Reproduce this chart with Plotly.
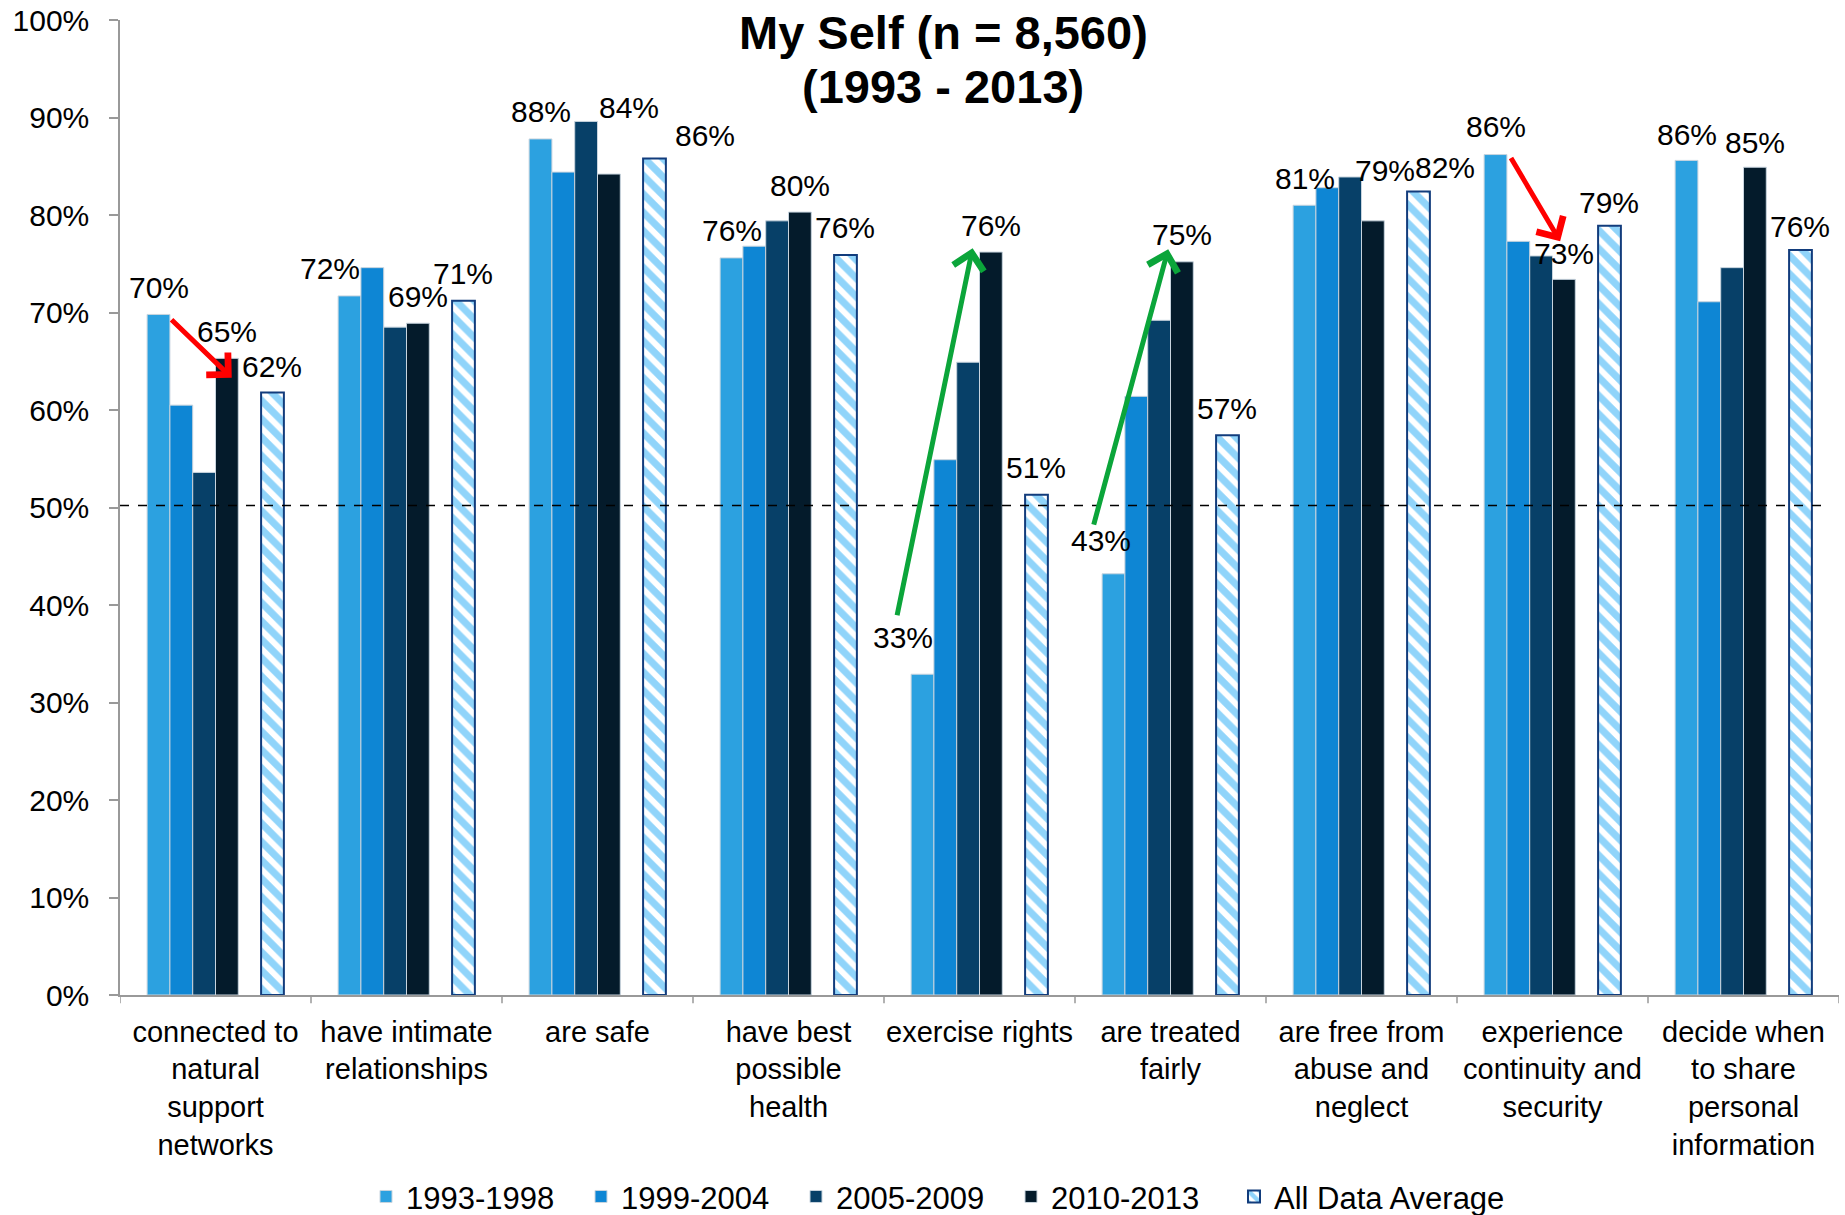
import plotly.graph_objects as go

# ---------------- data ----------------
categories = [
    "connected to<br>natural<br>support<br>networks",
    "have intimate<br>relationships",
    "are safe",
    "have best<br>possible<br>health",
    "exercise rights",
    "are treated<br>fairly",
    "are free from<br>abuse and<br>neglect",
    "experience<br>continuity and<br>security",
    "decide when<br>to share<br>personal<br>information",
]
series_names = ["1993-1998", "1999-2004", "2005-2009", "2010-2013", "All Data Average"]
v_1993_1998 = [69.8, 71.7, 87.8, 75.6, 32.9, 43.2, 81.0, 86.2, 85.6]
v_1999_2004 = [60.5, 74.6, 84.4, 76.8, 54.9, 61.4, 82.8, 77.3, 71.1]
v_2005_2009 = [53.6, 68.5, 89.6, 79.4, 64.9, 69.2, 83.9, 75.8, 74.6]
v_2010_2013 = [65.3, 68.9, 84.2, 80.3, 76.2, 75.2, 79.4, 73.4, 84.9]
v_average = [61.8, 71.2, 85.8, 75.9, 51.3, 57.4, 82.4, 78.9, 76.4]
reference_line = 50.2
title_lines = ["My Self (n = 8,560)", "(1993 - 2013)"]

# which bars carry a value label: (category, series index, xshift, yshift)
labelled = [
    (0, 0, 0, 27), (0, 3, 0, 27), (0, 4, 0, 26),
    (1, 0, -20, 27), (1, 3, 0, 27), (1, 4, 0, 27),
    (2, 0, 0, 27), (2, 3, 20, 67), (2, 4, 51, 23),
    (3, 0, 0, 27), (3, 3, 0, 27), (3, 4, 0, 27),
    (4, 0, -20, 37), (4, 3, 0, 27), (4, 4, 0, 27),
    (5, 0, -13, 33), (5, 3, 0, 27), (5, 4, 0, 27),
    (6, 0, 0, 27), (6, 3, 12, 50), (6, 4, 27, 24),
    (7, 0, 0, 28), (7, 3, 0, 26), (7, 4, 0, 23),
    (8, 0, 0, 26), (8, 3, 0, 25), (8, 4, 0, 24),
]

# trend arrows (tail x, tail y, tip x, tip y, colour) in axis units
arrows = [
    (-0.238, 69.4, 0.085, 63.3, "#FF0000"),
    (3.567, 38.8, 3.964, 76.6, "#0BA53A"),
    (4.596, 48.1, 4.988, 76.5, "#0BA53A"),
    (6.778, 86.0, 7.040, 77.3, "#FF0000"),
]

colors = ["#2CA1E0", "#0E86D4", "#074068", "#041B2B"]
FONT = "Liberation Sans, Arial, sans-serif"
BARGAP = 0.284

period_values = [v_1993_1998, v_1999_2004, v_2005_2009, v_2010_2013]
xs = list(range(len(categories)))

fig = go.Figure()
for name, vals, col in zip(series_names[:4], period_values, colors):
    fig.add_trace(go.Bar(
        x=xs, y=vals, name=name, legend="legend",
        marker=dict(color=col, line=dict(color="#C8D4DE", width=1)),
    ))
# empty slot between the periods and the average
fig.add_trace(go.Bar(x=xs, y=[0] * len(xs), showlegend=False, hoverinfo="skip",
                     marker=dict(color="rgba(0,0,0,0)", line=dict(width=0))))
fig.add_trace(go.Bar(
    x=xs, y=v_average, name=series_names[4], legend="legend2",
    marker=dict(color="white",
                line=dict(color="#123C7C", width=2),
                pattern=dict(shape="\\", fgcolor="#22AAF5", bgcolor="white",
                             size=13, solidity=0.55, fillmode="overlay")),
))

# value labels positioned from the bar slots
n_slots = 6
slot_w = (1 - BARGAP) / n_slots
all_series = period_values + [v_average]
slot_of = [0, 1, 2, 3, 5]
annotations = []
for cat, s, xsh, ysh in labelled:
    val = all_series[s][cat]
    xpos = cat - (1 - BARGAP) / 2 + (slot_of[s] + 0.5) * slot_w
    annotations.append(dict(
        x=xpos, y=val, xref="x", yref="y", text=f"{round(val)}%",
        showarrow=False, xshift=xsh, yshift=ysh, xanchor="center", yanchor="middle",
        font=dict(family=FONT, size=30, color="black"),
    ))

for tx, ty, hx, hy, col in arrows:
    annotations.append(dict(
        x=hx, y=hy, ax=tx, ay=ty, xref="x", yref="y", axref="x", ayref="y",
        text="", showarrow=True, arrowhead=4, arrowsize=1.2, arrowwidth=5,
        arrowcolor=col, standoff=0, startstandoff=0,
    ))

# two-line bold title
for line, ypos in zip(title_lines, [0.9867, 0.9323]):
    annotations.append(dict(
        x=(943 - 120) / 1719, y=ypos, xref="paper", yref="paper",
        text=f"<b>{line}</b>", showarrow=False, xanchor="center", yanchor="middle",
        font=dict(family=FONT, size=47, color="black"),
    ))

legend_common = dict(orientation="h", y=-0.207, yanchor="middle", xanchor="left",
                     font=dict(family=FONT, size=31, color="black"),
                     traceorder="normal", bgcolor="rgba(0,0,0,0)")

fig.update_layout(
    width=1845, height=1215,
    margin=dict(l=120, r=6, t=20, b=220, autoexpand=False),
    plot_bgcolor="white", paper_bgcolor="white",
    barmode="group", bargap=BARGAP, bargroupgap=0,
    font=dict(family=FONT, color="black", size=28),
    showlegend=True,
    legend=dict(x=(366 - 120) / 1719, entrywidth=170, entrywidthmode="pixels",
                **legend_common),
    legend2=dict(x=(1234 - 120) / 1719, **legend_common),
    annotations=annotations,
    shapes=[dict(type="line", xref="paper", yref="y", x0=0, x1=0.993,
                 y0=reference_line, y1=reference_line,
                 line=dict(color="black", width=1.5, dash="dash"))],
)
fig.update_xaxes(
    type="linear", range=[-0.5, len(categories) - 0.5],
    tickmode="array", tickvals=xs, ticktext=categories,
    showline=True, linecolor="#999999", linewidth=1.5,
    ticks="", ticklabelstandoff=10, showgrid=False, zeroline=False,
    tickfont=dict(family=FONT, size=29, color="black"),
)
fig.update_yaxes(
    range=[0, 100], dtick=10, ticksuffix="%",
    showline=True, linecolor="#999999", linewidth=1.5,
    ticks="outside", ticklen=9, tickcolor="#999999", tickwidth=1.5,
    ticklabelstandoff=14,
    showgrid=False, zeroline=False,
    tickfont=dict(family=FONT, size=30, color="black"),
)
# category boundary ticks on the x axis
for b in range(len(categories) + 1):
    fig.add_shape(type="line", xref="x", yref="paper", x0=b - 0.5, x1=b - 0.5,
                  y0=0, y1=-0.0085, line=dict(color="#999999", width=1.5))

fig.write_html("out.html")
